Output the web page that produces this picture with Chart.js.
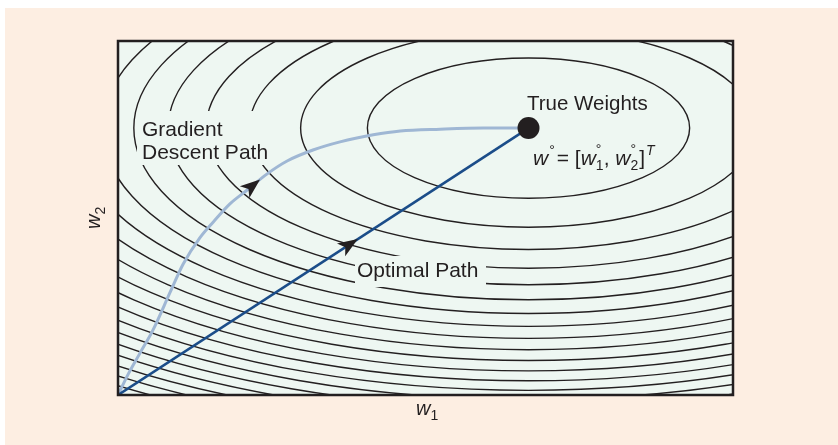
<!DOCTYPE html>
<html>
<head>
<meta charset="utf-8">
<script src="https://cdn.jsdelivr.net/npm/chart.js@4.4.1/dist/chart.umd.min.js"></script>
<style>
  html, body { margin: 0; padding: 0; background: #ffffff; }
  #wrap { width: 838px; height: 445px; position: relative; }
</style>
</head>
<body>
<div id="wrap"><canvas id="surfaceChart"></canvas></div>
<script>
// --- data (w1, w2 in axis units 0..10) ---
const trueWeights = [{ x: 6.675, y: 7.54 }];
const optimalPath = [{ x: 0, y: 0 }, { x: 6.675, y: 7.54 }];
const gradientPath = [
    { x: 0, y: 0 }, { x: 0.16, y: 0.57 }, { x: 0.36, y: 1.19 }, { x: 0.57, y: 1.84 },
    { x: 0.85, y: 2.91 }, { x: 1.06, y: 3.70 }, { x: 1.33, y: 4.44 }, { x: 1.55, y: 4.89 },
    { x: 1.82, y: 5.40 }, { x: 2.10, y: 5.79 }, { x: 2.42, y: 6.24 }, { x: 2.75, y: 6.61 },
    { x: 3.17, y: 6.92 }, { x: 3.61, y: 7.15 }, { x: 4.15, y: 7.35 }, { x: 4.59, y: 7.46 },
    { x: 5.24, y: 7.51 }, { x: 5.94, y: 7.54 }, { x: 6.675, y: 7.54 }
];
// contour levels of the cost surface, and the semi-axes of the level-1 ellipse
const contourLevels = [1, 2, 3, 4, 5, 6, 7, 8, 9, 10, 11, 12, 13, 14, 15, 16, 17, 18, 19, 20, 21, 22];
const unitSemiAxisW1 = 2.62;
const unitSemiAxisW2 = 1.98;
// arrowheads: [tail, tip]
const gradientArrow = [{ x: 2.10, y: 5.79 }, { x: 2.31, y: 6.09 }];
const optimalArrow = [{ x: 3.50, y: 3.955 }, { x: 3.90, y: 4.407 }];

const PEACH = '#fdeee2';
const PLOT_BG = '#eef7f2';
const INK = '#231f20';
const FONT = '"Liberation Sans", Arial, sans-serif';

function drawArrow(ctx, x0, y0, x1, y1) {
    const ang = Math.atan2(y1 - y0, x1 - x0);
    ctx.save();
    ctx.translate(x1, y1);
    ctx.rotate(ang);
    ctx.beginPath();
    ctx.moveTo(0, 0);
    ctx.lineTo(-20, -7.5);
    ctx.lineTo(-15, 0);
    ctx.lineTo(-20, 7.5);
    ctx.closePath();
    ctx.fillStyle = INK;
    ctx.fill();
    ctx.restore();
}

// draws a sequence of [text, font, dy, dx, noAdvance] pieces
function drawPieces(ctx, x, y, pieces) {
    pieces.forEach(p => {
        ctx.font = p[1];
        ctx.fillText(p[0], x + (p[3] || 0), y + p[2]);
        if (!p[4]) x += ctx.measureText(p[0]).width + (p[3] || 0);
    });
    return x;
}

const diagramPlugin = {
    id: 'diagram',
    beforeDraw(chart) {
        const ctx = chart.ctx;
        ctx.save();
        ctx.fillStyle = '#ffffff';
        ctx.fillRect(0, 0, chart.width, chart.height);
        ctx.fillStyle = PEACH;
        ctx.fillRect(5, 8, chart.width - 5, chart.height - 8);
        ctx.restore();
    },
    beforeDatasetsDraw(chart) {
        const ctx = chart.ctx;
        const a = chart.chartArea;
        const xs = chart.scales.x, ys = chart.scales.y;
        ctx.save();
        ctx.fillStyle = PLOT_BG;
        ctx.fillRect(a.left, a.top, a.right - a.left, a.bottom - a.top);
        ctx.beginPath();
        ctx.rect(a.left, a.top, a.right - a.left, a.bottom - a.top);
        ctx.clip();
        const cx = xs.getPixelForValue(trueWeights[0].x);
        const cy = ys.getPixelForValue(trueWeights[0].y);
        ctx.strokeStyle = INK;
        ctx.lineWidth = 1.4;
        contourLevels.forEach(k => {
            const rx = xs.getPixelForValue(trueWeights[0].x + unitSemiAxisW1 * Math.sqrt(k)) - cx;
            const ry = cy - ys.getPixelForValue(trueWeights[0].y + unitSemiAxisW2 * Math.sqrt(k));
            ctx.beginPath();
            ctx.ellipse(cx, cy, rx, ry, 0, 0, Math.PI * 2);
            ctx.stroke();
        });
        // label backgrounds hide the contour lines
        ctx.fillStyle = PLOT_BG;
        ctx.fillRect(137, 111, 135, 54);
        ctx.fillRect(355, 256, 131, 31);
        ctx.restore();
    },
    afterDatasetsDraw(chart) {
        const ctx = chart.ctx;
        const a = chart.chartArea;
        const xs = chart.scales.x, ys = chart.scales.y;
        const px = p => [xs.getPixelForValue(p.x), ys.getPixelForValue(p.y)];
        ctx.save();
        [gradientArrow, optimalArrow].forEach(arr => {
            const t = px(arr[0]), h = px(arr[1]);
            drawArrow(ctx, t[0], t[1], h[0], h[1]);
        });
        ctx.strokeStyle = INK;
        ctx.lineWidth = 2.5;
        ctx.strokeRect(a.left, a.top, a.right - a.left, a.bottom - a.top);

        ctx.fillStyle = INK;
        ctx.textBaseline = 'alphabetic';
        ctx.font = '21px ' + FONT;
        ctx.fillText('Gradient', 142, 136);
        ctx.fillText('Descent Path', 142, 159);
        ctx.fillText('Optimal Path', 357, 277);
        ctx.font = '20.5px ' + FONT;
        ctx.fillText('True Weights', 527, 110);

        const it = 'italic 21px ' + FONT;
        const rg = '21px ' + FONT;
        const sm = '14px ' + FONT;
        const smi = 'italic 14px ' + FONT;
        drawPieces(ctx, 533, 165, [
            ['w', it, 0], ['°', sm, -10, 1], ['= [', rg, 0, 2],
            ['w', it, 0], ['°', sm, -11, 0, true], ['1', sm, 5], [', ', rg, 0],
            ['w', it, 0], ['°', sm, -11, 0, true], ['2', sm, 5], [']', rg, 0, 1],
            ['T', smi, -10, 1]
        ]);

        // axis labels
        drawPieces(ctx, 416, 415, [['w', 'italic 20px ' + FONT, 0], ['1', '14px ' + FONT, 5]]);
        ctx.translate(100, 229);
        ctx.rotate(-Math.PI / 2);
        drawPieces(ctx, 0, 0, [['w', 'italic 20px ' + FONT, 0], ['2', '14px ' + FONT, 5]]);
        ctx.restore();
    }
};

const ctx = document.getElementById('surfaceChart').getContext('2d');
new Chart(ctx, {
    type: 'scatter',
    data: {
        datasets: [{
            label: 'True Weights',
            data: trueWeights,
            pointRadius: 11,
            pointBackgroundColor: INK,
            pointBorderWidth: 0,
            order: 0
        }, {
            label: 'Optimal Path',
            data: optimalPath,
            showLine: true,
            borderColor: '#1b4d89',
            borderWidth: 2.6,
            pointRadius: 0,
            order: 1
        }, {
            label: 'Gradient Descent Path',
            data: gradientPath,
            showLine: true,
            borderColor: '#9fb7d4',
            borderWidth: 3,
            pointRadius: 0,
            cubicInterpolationMode: 'monotone',
            order: 2
        }]
    },
    options: {
        responsive: true,
        maintainAspectRatio: false,
        animation: false,
        layout: { padding: { left: 118, top: 41, right: 105, bottom: 50 } },
        plugins: { legend: { display: false }, tooltip: { enabled: false } },
        scales: {
            x: { type: 'linear', min: 0, max: 10, display: false },
            y: { type: 'linear', min: 0, max: 10, display: false }
        }
    },
    plugins: [diagramPlugin]
});
</script>
</body>
</html>
